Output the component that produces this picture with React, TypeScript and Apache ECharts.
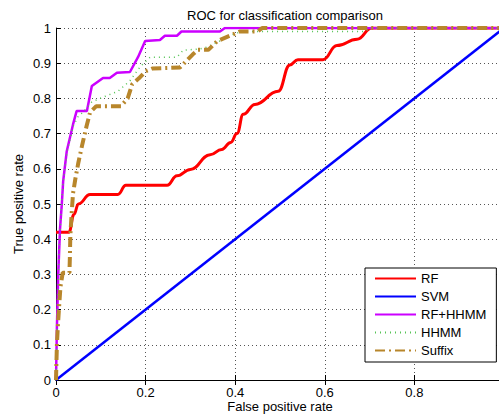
import React, { useEffect, useRef } from "react";
import * as echarts from "echarts";

// ROC curves: [false positive rate, true positive rate]
const rfPoints: number[][] = [
  [0, 0.42], [0.029, 0.42], [0.04, 0.47], [0.05, 0.5], [0.076, 0.527], [0.138, 0.527],
  [0.156, 0.553], [0.248, 0.553], [0.27, 0.58], [0.3, 0.598], [0.344, 0.64], [0.37, 0.655],
  [0.39, 0.675], [0.404, 0.7], [0.418, 0.755], [0.444, 0.783], [0.496, 0.82], [0.522, 0.895],
  [0.54, 0.91], [0.596, 0.91], [0.627, 0.95], [0.672, 0.968], [0.705, 1], [1, 1],
];
const svmPoints: number[][] = [[0, 0], [1, 1]];
const rfHhmmPoints: number[][] = [
  [0, 0], [0.002, 0.15], [0.005, 0.3], [0.009, 0.43], [0.013, 0.5], [0.016, 0.565],
  [0.024, 0.65], [0.038, 0.726], [0.046, 0.764], [0.069, 0.764], [0.08, 0.835], [0.105, 0.858],
  [0.12, 0.858], [0.136, 0.873], [0.165, 0.875], [0.183, 0.917], [0.199, 0.963], [0.232, 0.966],
  [0.243, 0.978], [0.27, 0.978], [0.28, 0.99], [0.366, 0.99], [0.377, 1], [1, 1],
];
const hhmmPoints: number[][] = [
  [0, 0], [0.003, 0.2], [0.008, 0.4], [0.015, 0.55], [0.025, 0.65], [0.038, 0.72],
  [0.05, 0.75], [0.06, 0.76], [0.08, 0.79], [0.11, 0.806], [0.138, 0.82], [0.165, 0.85],
  [0.188, 0.89], [0.21, 0.917], [0.27, 0.917], [0.284, 0.937], [0.32, 0.94], [0.337, 0.946],
  [0.384, 0.974], [0.4, 0.985], [0.42, 0.99], [0.69, 0.99], [0.7, 1], [1, 1],
];
const suffixPoints: number[][] = [
  [0, 0], [0.002, 0.1], [0.004, 0.15], [0.007, 0.21], [0.01, 0.265], [0.015, 0.305],
  [0.03, 0.305], [0.031, 0.35], [0.032, 0.41], [0.035, 0.475], [0.038, 0.53], [0.043, 0.57],
  [0.05, 0.618], [0.058, 0.665], [0.068, 0.72], [0.076, 0.76], [0.09, 0.778], [0.145, 0.778],
  [0.16, 0.8], [0.17, 0.84], [0.185, 0.857], [0.2, 0.877], [0.215, 0.885], [0.277, 0.888],
  [0.306, 0.926], [0.317, 0.938], [0.34, 0.938], [0.36, 0.963], [0.41, 0.99], [0.45, 0.99],
  [0.46, 1], [1, 1],
];

const seriesNames = ["RF", "SVM", "RF+HHMM", "HHMM", "Suffix"];

const FONT = "'Liberation Sans', Arial, sans-serif";

export default function App() {
  const ref = useRef<HTMLDivElement>(null);

  useEffect(() => {
    if (!ref.current) return;
    const chart = echarts.init(ref.current, undefined, { renderer: "svg" });

    const gridLine = { show: true, lineStyle: { color: "#555", width: 1, type: [1, 3] as number[] } };
    const tick = { show: true, inside: true, length: 5, lineStyle: { color: "#000" } };

    chart.setOption({
      animation: false,
      backgroundColor: "#fff",
      textStyle: { fontFamily: FONT },
      title: {
        text: "ROC for classification comparison",
        left: 280,
        textAlign: "center",
        top: 4,
        textStyle: { fontFamily: FONT, fontSize: 13, fontWeight: "normal", color: "#000" },
      },
      // plot box runs slightly past the right edge of the canvas
      grid: { left: 56, top: 28, width: 448, bottom: 36, containLabel: false, outerBoundsMode: "none" },
      legend: {
        orient: "vertical",
        left: 365,
        top: 268,
        data: seriesNames,
        itemWidth: 41,
        itemHeight: 14,
        itemGap: 5,
        padding: [4, 10, 5, 9],
        borderColor: "#000",
        borderWidth: 1,
        backgroundColor: "#fff",
        itemStyle: { opacity: 0 },
        textStyle: { fontFamily: FONT, fontSize: 13, color: "#000" },
      },
      xAxis: [
        {
          type: "value",
          min: 0,
          max: 1,
          interval: 0.2,
          name: "False positive rate",
          nameLocation: "middle",
          nameGap: 20,
          nameMoveOverlap: false,
          nameTextStyle: { fontFamily: FONT, fontSize: 13, color: "#000" },
          axisLine: { show: true, onZero: false, lineStyle: { color: "#000", width: 1 } },
          axisTick: tick,
          axisLabel: { color: "#000", fontSize: 13, fontFamily: FONT, margin: 6, showMaxLabel: false },
          splitLine: gridLine,
        },
        {
          type: "value",
          position: "top",
          min: 0,
          max: 1,
          interval: 0.2,
          axisLine: { show: true, lineStyle: { color: "#000", width: 1 } },
          axisTick: tick,
          axisLabel: { show: false },
          splitLine: { show: false },
        },
      ],
      yAxis: {
        type: "value",
        min: 0,
        max: 1,
        interval: 0.1,
        name: "True positive rate",
        nameLocation: "middle",
        nameGap: 31,
        nameMoveOverlap: false,
        nameTextStyle: { fontFamily: FONT, fontSize: 13, color: "#000" },
        axisLine: { show: true, onZero: false, lineStyle: { color: "#000", width: 1 } },
        axisTick: tick,
        axisLabel: { color: "#000", fontSize: 13, fontFamily: FONT, margin: 5 },
        splitLine: gridLine,
      },
      series: [
        {
          name: "RF",
          type: "line",
          data: rfPoints,
          showSymbol: false,
          symbol: "none",
          smooth: 0.45,
          smoothMonotone: "x",
          lineStyle: { color: "#ff0000", width: 3 },
          itemStyle: { color: "#ff0000" },
          z: 3,
        },
        {
          name: "SVM",
          type: "line",
          data: svmPoints,
          showSymbol: false,
          symbol: "none",
          lineStyle: { color: "#0000ff", width: 2.5 },
          itemStyle: { color: "#0000ff" },
          z: 3,
        },
        {
          name: "RF+HHMM",
          type: "line",
          data: rfHhmmPoints,
          showSymbol: false,
          symbol: "none",
          lineStyle: { color: "#cc00ff", width: 2.5 },
          itemStyle: { color: "#cc00ff" },
          z: 4,
        },
        {
          name: "HHMM",
          type: "line",
          data: hhmmPoints,
          showSymbol: false,
          symbol: "none",
          lineStyle: { color: "#55c455", width: 1.5, type: [1, 4] },
          itemStyle: { color: "#55c455" },
          z: 5,
        },
        {
          name: "Suffix",
          type: "line",
          data: suffixPoints,
          showSymbol: false,
          symbol: "none",
          lineStyle: { color: "#b8862b", width: 4, type: [10, 4, 2, 4] },
          itemStyle: { color: "#b8862b" },
          z: 5,
        },
      ],
    });

    return () => chart.dispose();
  }, []);

  return (
    <div
      ref={ref}
      style={{ position: "fixed", left: 0, top: 0, width: 499, height: 416, overflow: "hidden", background: "#fff" }}
    />
  );
}
